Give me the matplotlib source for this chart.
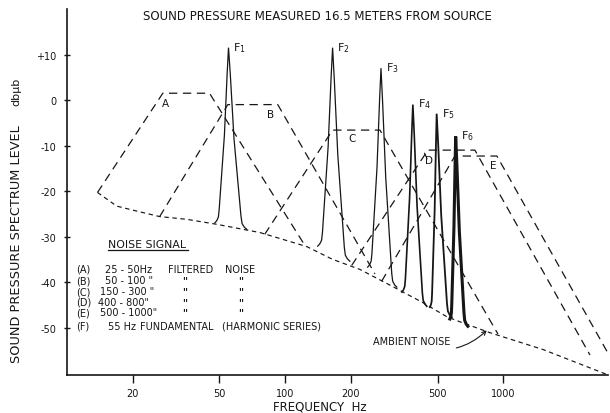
import numpy as np
import matplotlib
matplotlib.use("Agg")
import matplotlib.pyplot as plt

plt.rcParams['font.family'] = ['DejaVu Sans']
plt.rcParams['lines.scale_dashes'] = False

INK = '#161616'

# Ambient noise spectrum level (Hz, dB re 1 ubar)
ambient_hz = [13.8, 16.9, 20.9, 26.6, 35.4, 48.6, 76.5, 97.5, 125.7, 165, 220, 312, 428, 551, 632, 868, 1520, 2990]
ambient_db = [-20.3, -23.3, -24.4, -25.6, -26.2, -27.3, -29.1, -30.6, -32.2, -35.0, -37.2, -41.0, -44.5, -47.6, -48.7, -51.1, -54.8, -60.3]

# Filtered noise bands A-E: skirt foot, pass-band corners, top level
band_names = ['A', 'B', 'C', 'D', 'E']
band_lo_hz = [27.5, 54.6, 165, 451, 600]
band_hi_hz = [45, 92.5, 272, 741, 935]
band_top_db = [1.5, -1.0, -6.6, -11.0, -12.3]
band_foot_lo_hz = [13.8, 26.6, 80.6, 202, 277]
band_foot_lo_db = [-20.3, -25.6, -29.5, -36.3, -39.8]
band_foot_hi_hz = [123, 258, 945, 2496, 2987]
band_foot_hi_db = [-31.9, -38.2, -51.4, -56.0, -55.2]

# 55 Hz harmonic series (odd harmonics F1-F6)
harmonic_hz = [55, 165, 275, 385, 495, 605]
harmonic_peak_db = [11.5, 11.5, 7.0, -1.0, -3.0, -8.0]
skirt_lo_hz = [47.6, 141, 239, 343, 461, 569]
skirt_lo_db = [-27.0, -32.1, -36.7, -42.2, -45.5, -48.1]
skirt_hi_hz = [66.7, 198, 325, 446, 581, 688]
skirt_hi_db = [-28.4, -35.4, -41.1, -45.3, -47.7, -49.7]

x_ticks = [20, 50, 100, 200, 500, 1000]
y_ticks = [-50, -40, -30, -20, -10, 0, 10]
y_tick_labels = ['-50', '-40', '-30', '-20', '-10', '0', '+10']

fig = plt.figure(figsize=(6.10, 4.14), dpi=100)
ax = fig.add_axes([67 / 610, 38 / 414, 541 / 610, 366 / 414])
ax.set_xscale('log')
ax.set_xlim(10, 3020)
ax.set_ylim(-60.4, 20)

# ambient noise: fine dashes
ax.plot(ambient_hz, ambient_db, color=INK, lw=0.85, ls=(0, (3.2, 2.6)))

# filter bands: long dashes
for i in range(len(band_names)):
    xs = [band_foot_lo_hz[i], band_lo_hz[i], band_hi_hz[i], band_foot_hi_hz[i]]
    ys = [band_foot_lo_db[i], band_top_db[i], band_top_db[i], band_foot_hi_db[i]]
    ax.plot(xs, ys, color=INK, lw=0.9, ls=(0, (6.0, 4.0)))

# spike outline: (share of skirt half-width, dB above foot, share of rise)
profile = [(1.00, 0.0, 0.00), (0.86, 0.5, 0.00), (0.74, 1.3, 0.00),
           (0.68, 3.0, 0.00), (0.30, 0.0, 0.50), (0.10, 0.0, 0.85),
           (0.00, 0.0, 1.00)]


def spike(fc, peak, f_lo, d_lo, f_hi, d_hi):
    uc = np.log10(fc)
    left_u, left_d = [], []
    for w, a, r in profile:
        left_u.append(uc - w * (uc - np.log10(f_lo)))
        left_d.append(d_lo + a + r * (peak - d_lo))
    right_u, right_d = [], []
    for w, a, r in reversed(profile[:-1]):
        right_u.append(uc + w * (np.log10(f_hi) - uc))
        right_d.append(d_hi + a + r * (peak - d_hi))
    u = np.array(left_u + right_u)
    return 10 ** u, np.array(left_d + right_d)


spike_widths = [0.9, 0.9, 0.9, 1.2, 1.3, 2.2]
for i, fc in enumerate(harmonic_hz):
    xs, ys = spike(fc, harmonic_peak_db[i], skirt_lo_hz[i], skirt_lo_db[i],
                   skirt_hi_hz[i], skirt_hi_db[i])
    ax.plot(xs, ys, color=INK, lw=spike_widths[i], solid_joinstyle='miter')
    ax.annotate('F$_{%d}$' % (i + 1), xy=(fc, harmonic_peak_db[i]),
                xytext=(3.5, -1.5), textcoords='offset points',
                ha='left', va='baseline', fontsize=8, color=INK)

# band letters
band_label_pos = {'A': (28.3, -0.6), 'B': (86, -3.1), 'C': (202, -8.4),
                  'D': (456, -13.2), 'E': (896, -14.3)}
for name in band_names:
    bx, by = band_label_pos[name]
    ax.text(bx, by, name, ha='center', va='center', fontsize=7.5, color=INK)
ax.plot([436, 447], [-11.7, -12.9], color=INK, lw=0.8)

# ambient noise callout
ax.annotate('AMBIENT NOISE', xy=(840, -50.6), xytext=(575, -53.0),
            ha='right', va='center', fontsize=7, color=INK,
            arrowprops=dict(arrowstyle='->', color=INK, lw=0.8,
                            shrinkA=2, shrinkB=0,
                            connectionstyle='arc3,rad=0.35'))

# axes styling
for side in ('top', 'right'):
    ax.spines[side].set_visible(False)
for side in ('left', 'bottom'):
    ax.spines[side].set_linewidth(1.2)
    ax.spines[side].set_color(INK)
ax.set_xticks(x_ticks)
ax.set_xticklabels([str(v) for v in x_ticks])
ax.xaxis.set_minor_locator(matplotlib.ticker.NullLocator())
ax.set_yticks(y_ticks)
ax.set_yticklabels(y_tick_labels)
ax.tick_params(axis='x', direction='out', length=6, width=1.0, pad=3.5,
               labelsize=7, colors=INK)
ax.tick_params(axis='y', direction='inout', length=5, width=1.0, pad=5,
               labelsize=7, colors=INK)

# titles
fig.text(317 / 610, 1 - 17 / 414, 'SOUND PRESSURE MEASURED 16.5 METERS FROM SOURCE',
         ha='center', va='center', fontsize=8.5, color=INK)
fig.text(320 / 610, 1 - 407 / 414, 'FREQUENCY  Hz', ha='center', va='center',
         fontsize=8.5, color=INK)
fig.text(17 / 610, 1 - 244 / 414, 'SOUND PRESSURE SPECTRUM LEVEL', rotation=90,
         ha='center', va='center', fontsize=9.3, color=INK)
fig.text(16 / 610, 1 - 92 / 414, 'db\u03bcb', rotation=90,
         ha='center', va='center', fontsize=8, color=INK)

# noise signal key
def ax_pt(px, py):
    return (px - 67) / 541, (376 - py) / 366


kx, ky = ax_pt(108, 245)
ax.text(kx, ky, 'NOISE SIGNAL', transform=ax.transAxes, fontsize=7.8,
        ha='left', va='center', color=INK)
ux0, uy = ax_pt(108, 251)
ux1, _ = ax_pt(188, 251)
ax.plot([ux0, ux1], [uy, uy], transform=ax.transAxes, color=INK, lw=0.9)

key_rows = [
    ('(A)', '25 - 50Hz', 105, 270),
    ('(B)', '50 - 100 "', 105, 281.5),
    ('(C)', '150 - 300 "', 100, 292.5),
    ('(D)', '400 - 800"', 98, 303),
    ('(E)', '500 - 1000"', 100, 313.5),
]
for tag, rng, rx, ry in key_rows:
    tx, ty = ax_pt(76, ry)
    ax.text(tx, ty, tag, transform=ax.transAxes, fontsize=7, ha='left',
            va='center', color=INK)
    tx, ty = ax_pt(rx, ry)
    ax.text(tx, ty, rng, transform=ax.transAxes, fontsize=7, ha='left',
            va='center', color=INK)
    if tag == '(A)':
        for word, wx in (('FILTERED', 168), ('NOISE', 225)):
            tx, ty = ax_pt(wx, ry)
            ax.text(tx, ty, word, transform=ax.transAxes, fontsize=7,
                    ha='left', va='center', color=INK)
    else:
        for wx in (185, 241):
            tx, ty = ax_pt(wx, ry)
            ax.text(tx, ty, '"', transform=ax.transAxes, fontsize=7,
                    ha='center', va='center', color=INK, fontweight='bold')

fy = 327
for word, wx in (('(F)', 76), ('55 Hz', 108), ('FUNDAMENTAL', 140),
                 ('(HARMONIC SERIES)', 222)):
    tx, ty = ax_pt(wx, fy)
    ax.text(tx, ty, word, transform=ax.transAxes, fontsize=7, ha='left',
            va='center', color=INK)

fig.savefig('out.png', dpi=100, facecolor='white')
